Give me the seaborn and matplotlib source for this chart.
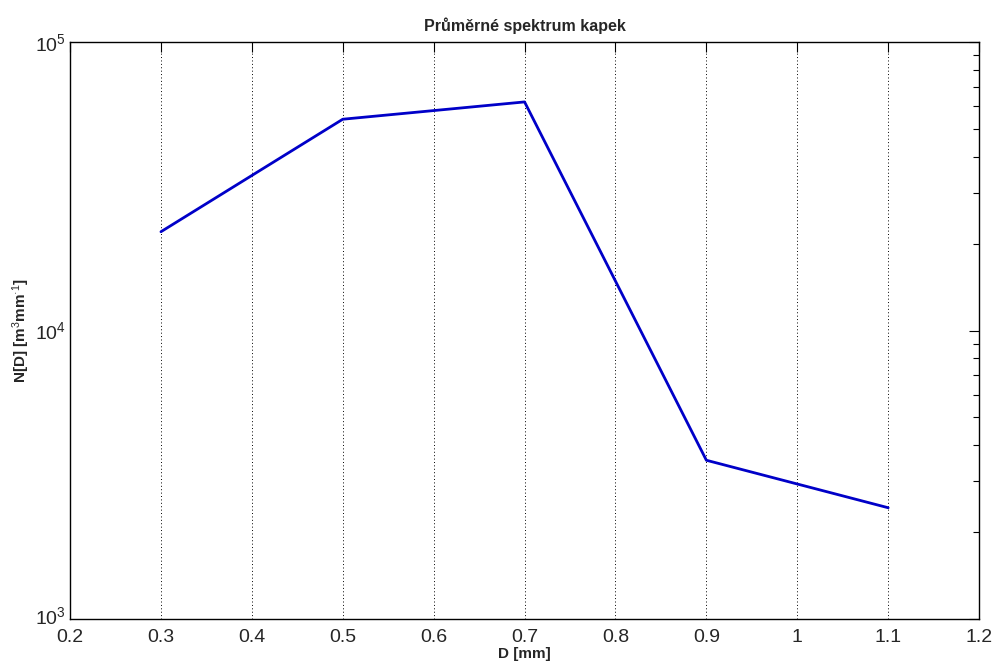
import matplotlib
matplotlib.use("Agg")
import matplotlib.pyplot as plt
import matplotlib.transforms as mtransforms
import seaborn as sns
import pandas as pd
import numpy as np
from matplotlib.ticker import LogLocator, FixedLocator, NullFormatter

diameters = [0.3, 0.5, 0.7, 0.9, 1.1]
counts = [22000, 54000, 62000, 3550, 2430]
x_ticks = [0.2, 0.3, 0.4, 0.5, 0.6, 0.7, 0.8, 0.9, 1.0, 1.1, 1.2]
x_tick_labels = ["0.2", "0.3", "0.4", "0.5", "0.6", "0.7", "0.8", "0.9", "1", "1.1", "1.2"]
title = "Průměrné spektrum kapek"
xlabel = "D [mm]"
ylabel = "N[D] [m$^{3}$mm$^{\u00b71}$]"

sns.set_style("white")
plt.rcParams['font.family'] = ['Liberation Sans', 'DejaVu Sans']
plt.rcParams['mathtext.fontset'] = 'custom'
plt.rcParams['mathtext.rm'] = 'Liberation Sans'
plt.rcParams['mathtext.it'] = 'Liberation Sans'

df = pd.DataFrame({"D": diameters, "N": counts})

fig = plt.figure(figsize=(9.95, 6.64), dpi=100)
ax = fig.add_axes([0.0704, 0.0678, 0.984 - 0.0704, 0.9367 - 0.0678])
sns.lineplot(data=df, x="D", y="N", ax=ax, color="#0000C8", linewidth=2)
ax.set_yscale("log")
ax.set_xlim(0.2, 1.2)
ax.set_ylim(1e3, 1e5)
ax.set_xticks(x_ticks)
ax.set_xticklabels(x_tick_labels)
ax.yaxis.set_major_locator(FixedLocator([1e3, 1e4, 1e5]))
ax.yaxis.set_minor_locator(LogLocator(base=10, subs=np.arange(2, 10)))
ax.yaxis.set_minor_formatter(NullFormatter())
ax.tick_params(axis="both", which="both", direction="in", top=True, right=True,
               labelsize=14, color="black")
ax.tick_params(axis="x", which="major", length=7, width=0.8, pad=7)
ax.tick_params(axis="y", which="major", length=7, width=0.8, pad=3)
ax.tick_params(axis="y", which="minor", length=4, width=0.8)
ax.xaxis.grid(True, linestyle=(0, (1, 2.5)), color="black", linewidth=0.7)
ax.yaxis.grid(False)
for s in ax.spines.values():
    s.set_color("black")
    s.set_linewidth(1)
ax.set_title(title, fontsize=11.5, fontweight="bold", pad=8)
ax.set_xlabel(xlabel, fontsize=11, fontweight="bold", labelpad=1)
ax.set_ylabel(ylabel, fontsize=11, fontweight="bold", labelpad=2)

fig.canvas.draw()
lab = ax.yaxis.get_major_ticks()[0].label1
lab.set_transform(lab.get_transform() + mtransforms.ScaledTranslation(0, 4 / 100, fig.dpi_scale_trans))
fig.savefig("out.png", dpi=100)
